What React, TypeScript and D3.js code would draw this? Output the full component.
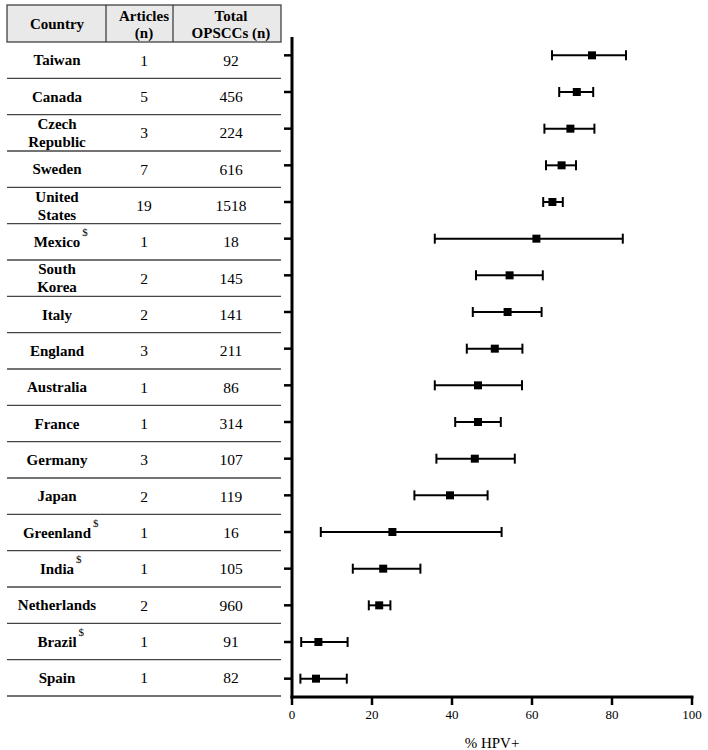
import React, { useEffect } from "react";
import * as d3 from "d3";

const countries = ["Taiwan", "Canada", "Czech Republic", "Sweden", "United States", "Mexico", "South Korea", "Italy", "England", "Australia", "France", "Germany", "Japan", "Greenland", "India", "Netherlands", "Brazil", "Spain"];
const flagged = ["Mexico", "Greenland", "India", "Brazil"];
const articles = [1, 5, 3, 7, 19, 1, 2, 2, 3, 1, 1, 3, 2, 1, 1, 2, 1, 1];
const totals = [92, 456, 224, 616, 1518, 18, 145, 141, 211, 86, 314, 107, 119, 16, 105, 960, 91, 82];
const pct = [75, 71.2, 69.6, 67.4, 65.1, 61.1, 54.4, 53.9, 50.7, 46.5, 46.5, 45.7, 39.5, 25.1, 22.8, 21.8, 6.6, 6.0];
const lower = [65, 66.8, 63.1, 63.5, 62.8, 35.7, 46, 45.2, 43.7, 35.7, 40.8, 36.1, 30.6, 7.2, 15.2, 19.2, 2.3, 2.1];
const upper = [83.5, 75.3, 75.6, 71, 67.7, 82.7, 62.7, 62.4, 57.6, 57.5, 52.2, 55.7, 48.9, 52.4, 32.1, 24.6, 13.9, 13.7];
const xTicks = [0, 20, 40, 60, 80, 100];
const headers = [["Country"], ["Articles", "(n)"], ["Total", "OPSCCs (n)"]];
const xLabel = "% HPV+";

const FONT = "'Liberation Serif', 'Times New Roman', serif";

function measure(text: string, font: string) {
  const c = document.createElement("canvas");
  const ctx = c.getContext("2d")!;
  ctx.font = font;
  return ctx.measureText(text).width;
}

export default function App() {
  useEffect(() => {
    document.body.style.margin = "0";
  }, []);

  const x = d3.scaleLinear().domain([0, 100]).range([292, 692]);
  const y = d3.scaleBand<string>().domain(countries).range([37, 697]).padding(0);
  const yc = (c: string) => (y(c) as number) + y.bandwidth() / 2;
  const tbl = d3.scaleBand<string>().domain(countries).range([42, 696]).padding(0);
  const tc = (c: string) => (tbl(c) as number) + tbl.bandwidth() / 2;

  const colX = [57, 144, 231];
  const tableLeft = 7, tableRight = 281;
  const colDiv = [106, 173];

  return (
    <svg width={708} height={750} style={{ display: "block", background: "#fff" }} fontFamily={FONT}>
      <rect x={tableLeft} y={5} width={tableRight - tableLeft} height={37} fill="#e9e9e9" stroke="#333" strokeWidth={1.2} />
      {colDiv.map((d) => (
        <line key={d} x1={d} x2={d} y1={5} y2={42} stroke="#333" strokeWidth={1.2} />
      ))}
      {headers.map((h, i) => (
        <text key={i} x={colX[i]} y={h.length === 1 ? 24 : 16} textAnchor="middle" dominantBaseline="central" fontWeight="bold" fontSize={15}>
          {h.map((line, j) => (
            <tspan key={j} x={colX[i]} dy={j === 0 ? 0 : 17}>{line}</tspan>
          ))}
        </text>
      ))}
      {countries.map((c, i) => {
        const cy = tc(c);
        const words = c.split(" ");
        const nameW = measure(c, `bold 15px ${FONT}`);
        return (
          <g key={c}>
            <line x1={tableLeft} x2={tableRight} y1={(tbl(c) as number) + tbl.bandwidth()} y2={(tbl(c) as number) + tbl.bandwidth()} stroke="#444" strokeWidth={1.3} />
            <text x={colX[0]} y={words.length > 1 ? cy - 9 : cy} textAnchor="middle" dominantBaseline="central" fontWeight="bold" fontSize={15}>
              {words.map((w, j) => (
                <tspan key={j} x={colX[0]} dy={j === 0 ? 0 : 18}>{w}</tspan>
              ))}
            </text>
            {flagged.includes(c) && (
              <text x={colX[0] + nameW / 2 + 2} y={cy - 10} fontSize={11} dominantBaseline="central">$</text>
            )}
            <text x={colX[1]} y={cy} textAnchor="middle" dominantBaseline="central" fontSize={15.5}>{articles[i]}</text>
            <text x={colX[2]} y={cy} textAnchor="middle" dominantBaseline="central" fontSize={15.5}>{totals[i]}</text>
          </g>
        );
      })}
      <line x1={292} x2={292} y1={37} y2={698.5} stroke="#000" strokeWidth={3} />
      {countries.map((c) => (
        <line key={c} x1={284} x2={292} y1={yc(c)} y2={yc(c)} stroke="#000" strokeWidth={2.5} />
      ))}
      <line x1={290.5} x2={693.5} y1={697} y2={697} stroke="#000" strokeWidth={3} />
      {xTicks.map((t) => (
        <g key={t}>
          <line x1={x(t)} x2={x(t)} y1={697} y2={705} stroke="#000" strokeWidth={2.5} />
          <text x={x(t)} y={714} textAnchor="middle" dominantBaseline="central" fontSize={13} fill="#000">{t}</text>
        </g>
      ))}
      <text x={492} y={743} textAnchor="middle" dominantBaseline="central" fontSize={15}>{xLabel}</text>
      {countries.map((c, i) => {
        const cy = yc(c);
        return (
          <g key={c}>
            <line x1={x(lower[i])} x2={x(upper[i])} y1={cy} y2={cy} stroke="#000" strokeWidth={2} />
            <line x1={x(lower[i])} x2={x(lower[i])} y1={cy - 5} y2={cy + 5} stroke="#000" strokeWidth={2} />
            <line x1={x(upper[i])} x2={x(upper[i])} y1={cy - 5} y2={cy + 5} stroke="#000" strokeWidth={2} />
            <rect x={x(pct[i]) - 4} y={cy - 4} width={8} height={8} fill="#000" />
          </g>
        );
      })}
    </svg>
  );
}
